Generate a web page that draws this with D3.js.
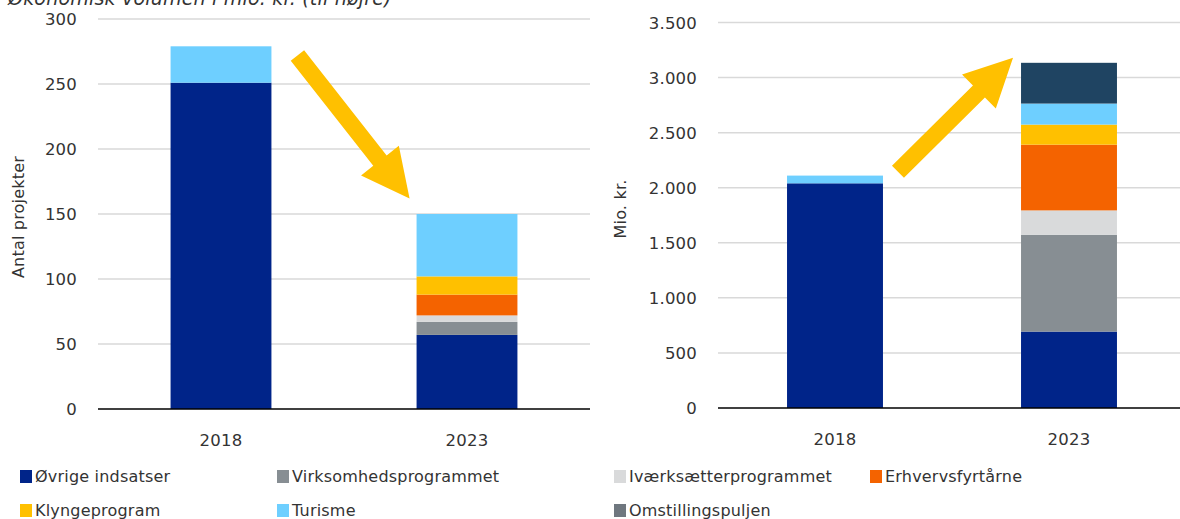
<!DOCTYPE html>
<html>
<head>
<meta charset="utf-8">
<style>
  body { margin: 0; background: #fff; }
  svg { display: block; }
  text { font-family: "DejaVu Sans", sans-serif; fill: #333; letter-spacing: 0.2px; }
</style>
<script src="https://d3js.org/d3.v7.min.js"></script>
</head>
<body>
<div id="chart"></div>
<script>
// data
const years = ["2018", "2023"];
const series = ["Øvrige indsatser", "Virksomhedsprogrammet", "Iværksætterprogrammet",
  "Erhvervsfyrtårne", "Klyngeprogram", "Turisme", "Omstillingspuljen", "Øvrige puljer"];
const colors = ["#002489", "#878e93", "#d9dadb", "#f46300", "#ffc000", "#6ecfff", "#6f777f", "#1f4462"];

// Antal projekter, per serie [2018, 2023]
const projekter = [[251, 57], [0, 10], [0, 5], [0, 16], [0, 14], [28, 48], [0, 0], [0, 0]];
// Mio. kr., per serie [2018, 2023]
const mioKr = [[2040, 694], [0, 879], [0, 221], [0, 597], [0, 182], [70, 191], [0, 0], [0, 370]];

const leftTicks = [0, 50, 100, 150, 200, 250, 300];
const rightTicks = [0, 500, 1000, 1500, 2000, 2500, 3000, 3500];

const W = 1180, H = 519;
const svg = d3.select("#chart").append("svg").attr("width", W).attr("height", H);

const dk = d3.formatLocale({decimal: ",", thousands: ".", grouping: [3], currency: ["", " kr."]});
const fmt = dk.format(",d");

// title line, cut at the top of the picture like in the source
svg.append("text")
  .attr("x", 8).attr("y", 5)
  .style("font-style", "italic").style("font-size", "19px")
  .text("Økonomisk volumen i mio. kr. (til højre)");

function drawPanel(opt) {
  const x = d3.scaleBand().domain(years).range([opt.x0, opt.x1]).paddingInner(0.59).paddingOuter(0.295);
  const y = d3.scaleLinear().domain([0, opt.max]).range([opt.y0, opt.y1]);
  const g = svg.append("g");

  // gridlines
  g.selectAll(".grid").data(opt.ticks.filter(d => d > 0)).join("line")
    .attr("x1", opt.x0).attr("x2", opt.x1)
    .attr("y1", d => y(d)).attr("y2", d => y(d))
    .attr("stroke", "#d9d9d9").attr("stroke-width", 1.5);

  g.selectAll(".tl").data(opt.ticks).join("text")
    .attr("x", opt.x0 - 21).attr("y", d => y(d) + 6)
    .attr("text-anchor", "end").style("font-size", "16.5px")
    .text(d => fmt(d));

  // stacked bars
  const rows = years.map((yr, i) => {
    const r = {year: yr};
    series.forEach((s, k) => r[s] = opt.values[k][i]);
    return r;
  });
  const stack = d3.stack().keys(series)(rows);
  g.selectAll(".layer").data(stack).join("g")
    .attr("fill", (d, i) => colors[i])
    .selectAll("rect").data(d => d).join("rect")
    .attr("x", d => x(d.data.year))
    .attr("width", x.bandwidth())
    .attr("y", d => y(d[1]))
    .attr("height", d => y(d[0]) - y(d[1]));

  // baseline
  g.append("line").attr("x1", opt.x0).attr("x2", opt.x1)
    .attr("y1", y(0)).attr("y2", y(0)).attr("stroke", "#000").attr("stroke-width", 1.5);

  g.selectAll(".xl").data(years).join("text")
    .attr("x", d => x(d) + x.bandwidth() / 2).attr("y", y(0) + 37)
    .attr("text-anchor", "middle").style("font-size", "16.5px")
    .text(d => d);

  g.append("text")
    .attr("transform", `translate(${opt.titleX},${opt.titleY}) rotate(-90)`)
    .attr("text-anchor", "middle").style("font-size", "16px")
    .text(opt.title);

  return {x, y};
}

const L = drawPanel({x0: 98, x1: 590, y0: 409, y1: 19, max: 300, ticks: leftTicks,
  values: projekter, title: "Antal projekter", titleX: 24, titleY: 217});
const R = drawPanel({x0: 718, x1: 1186, y0: 408, y1: 22.5, max: 3500, ticks: rightTicks,
  values: mioKr, title: "Mio. kr.", titleX: 626, titleY: 209});

// yellow arrows
function arrow(x1, y1, x2, y2) {
  const dx = x2 - x1, dy = y2 - y1, len = Math.hypot(dx, dy);
  const ux = dx / len, uy = dy / len, nx = -uy, ny = ux;
  const sw = 8.5, hw = 24, hl = 48;
  const bx = x2 - ux * hl, by = y2 - uy * hl;
  const pts = [
    [x1 + nx * sw, y1 + ny * sw], [bx + nx * sw, by + ny * sw], [bx + nx * hw, by + ny * hw],
    [x2, y2], [bx - nx * hw, by - ny * hw], [bx - nx * sw, by - ny * sw], [x1 - nx * sw, y1 - ny * sw]
  ];
  svg.append("polygon").attr("points", pts.map(p => p.join(",")).join(" ")).attr("fill", "#ffc000");
}
arrow(L.x("2018") + L.x.bandwidth() + 26, L.y(272), L.x("2023") - 7, L.y(162));
arrow(R.x("2018") + R.x.bandwidth() + 15, R.y(2145), R.x("2023") - 8, R.y(3180));

// legend
const legendItems = series.slice(0, 7);
const colX = [20, 277, 614, 870];
const lg = svg.append("g").selectAll("g").data(legendItems).join("g")
  .attr("transform", (d, i) => `translate(${colX[i % 4]},${470 + Math.floor(i / 4) * 34})`);
lg.append("rect").attr("width", 12).attr("height", 13).attr("fill", (d, i) => colors[i]);
lg.append("text").attr("x", 15).attr("y", 12).style("font-size", "16px").text(d => d);
</script>
</body>
</html>
